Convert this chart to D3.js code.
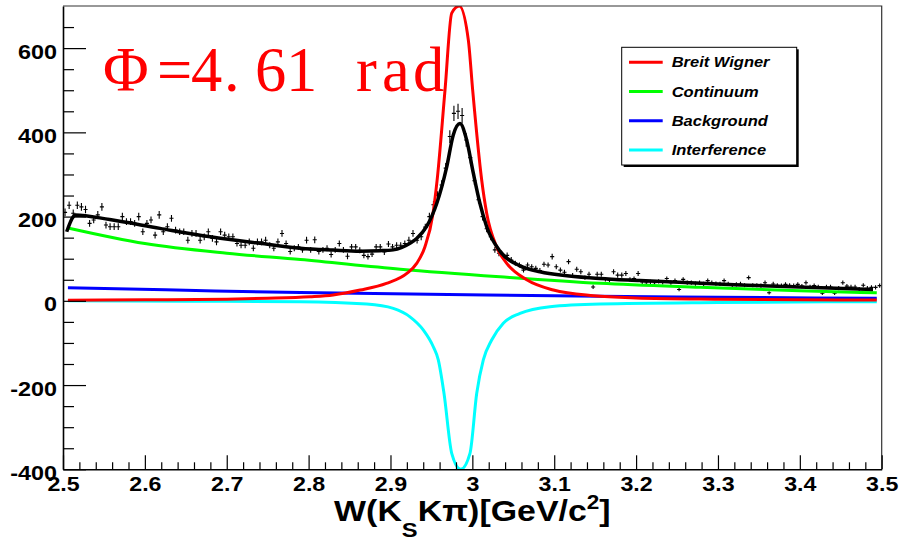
<!DOCTYPE html>
<html>
<head>
<meta charset="utf-8">
<script src="https://cdn.jsdelivr.net/npm/d3@7"></script>
<style>
  body { margin: 0; background: #fff; }
  svg { display: block; }
</style>
</head>
<body>
<svg id="chart" width="899" height="542"></svg>
<script>
// ---- axis setup ----
const xDomain = [2.5, 3.5];
const yDomain = [-400, 700];
const xMajorTicks = [2.5, 2.6, 2.7, 2.8, 2.9, 3.0, 3.1, 3.2, 3.3, 3.4, 3.5];
const xTickLabels = ["2.5", "2.6", "2.7", "2.8", "2.9", "3", "3.1", "3.2", "3.3", "3.4", "3.5"];
const yMajorTicks = [-400, -200, 0, 200, 400, 600];
const yTickLabels = ["-400", "-200", "0", "200", "400", "600"];

// ---- histogram: W(KsKpi) events, 200 bins of 5 MeV from 2.5 GeV ----
const binLow = 2.5;
const binWidth = 0.005;
const counts = [
  210, 227, 208, 227, 223, 217, 184, 192, 204, 223,
  180, 176, 176, 176, 200, 188, 188, 184, 200, 164,
  184, 192, 156, 204, 164, 176, 196, 168, 164, 164,
  144, 160, 160, 144, 152, 164, 148, 140, 164, 156,
  152, 152, 136, 132, 132, 140, 125, 140, 140, 144,
  132, 125, 140, 160, 136, 117, 125, 128, 121, 144,
  121, 145, 117, 121, 125, 110, 121, 136, 121, 106,
  128, 128, 120, 108, 105, 111, 128, 128, 116, 135,
  128, 132, 132, 136, 144, 160, 144, 152, 175, 200,
  228, 250, 275, 315, 390, 445, 450, 440, 382, 340,
  285, 240, 200, 171, 152, 121, 113, 105, 108, 97,
  89, 85, 73, 85, 81, 77, 72, 87, 85, 105,
  81, 73, 68, 93, 60, 75, 69, 55, 63, 33,
  63, 63, 51, 49, 69, 61, 61, 65, 51, 53,
  65, 45, 43, 45, 43, 46, 44, 53, 43, 48,
  27, 51, 43, 43, 41, 43, 40, 48, 43, 41,
  40, 48, 40, 37, 39, 40, 37, 55, 37, 37,
  36, 43, 19, 40, 37, 36, 39, 37, 36, 39,
  35, 43, 33, 36, 33, 18, 33, 33, 18, 30,
  43, 35, 33, 33, 28, 37, 30, 32, 32, 36
];
const countErrors = [
  9, 9, 9, 9, 9, 9, 8, 8, 9, 9,
  8, 8, 8, 8, 9, 8, 8, 8, 9, 8,
  8, 8, 8, 9, 8, 8, 8, 8, 8, 8,
  8, 8, 8, 8, 8, 8, 8, 8, 8, 8,
  8, 8, 7, 7, 7, 8, 7, 8, 8, 8,
  7, 7, 8, 8, 7, 7, 7, 7, 7, 8,
  7, 8, 7, 7, 7, 7, 7, 7, 7, 7,
  7, 7, 7, 7, 7, 7, 7, 7, 7, 7,
  7, 7, 7, 7, 8, 8, 8, 8, 8, 9,
  9, 10, 11, 12, 15, 18, 18, 18, 16, 14,
  10, 9, 9, 8, 8, 7, 7, 7, 7, 7,
  6, 6, 6, 6, 6, 6, 6, 6, 6, 7,
  6, 6, 6, 6, 6, 6, 6, 5, 6, 5,
  6, 6, 5, 5, 6, 6, 6, 6, 5, 5,
  6, 5, 5, 5, 5, 5, 5, 5, 5, 5,
  4, 5, 5, 5, 5, 5, 5, 5, 5, 5,
  5, 5, 5, 5, 5, 5, 5, 5, 5, 5,
  5, 5, 4, 5, 5, 5, 5, 5, 5, 5,
  5, 5, 5, 5, 5, 4, 5, 5, 4, 5,
  5, 5, 5, 5, 5, 5, 5, 5, 5, 5
];

// ---- fitted total ----
const fitX = [2.5045, 2.5126, 2.515, 2.557, 2.6185, 2.68, 2.7406, 2.79, 2.83, 2.8628, 2.8871,
              2.9034, 2.9238, 2.932, 2.944, 2.9565, 2.9687, 2.9767, 2.9849, 2.993, 3.0012,
              3.0093, 3.0175, 3.0338, 3.0582, 3.0826, 3.1559, 3.2048, 3.3269, 3.4894];
const fitY = [164, 200, 204, 193, 172, 152, 136.5, 125, 120.6, 118, 119,
              121, 136.5, 148, 176, 231, 318, 394, 421, 382, 303,
              231, 176, 118, 83, 69, 53, 48, 37.5, 27];

// ---- components ----
const bwX = [2.506, 2.6, 2.7, 2.75, 2.8017, 2.83, 2.863, 2.895, 2.92, 2.932, 2.942, 2.952, 2.957,
             2.9666, 2.9748, 2.984, 2.9951, 3.0004, 3.0114, 3.0175, 3.0297, 3.042, 3.0664,
             3.099, 3.148, 3.2, 3.3, 3.4, 3.494];
const bwY = [1.5, 2.5, 4, 6, 9.7, 14, 25.6, 41.5, 65, 89, 128, 208, 287,
             500, 683, 700, 619, 500, 287, 208, 128, 89, 50,
             25.6, 12, 7, 4, 2.5, 2];

const contX = [2.506, 2.6, 2.7, 2.79, 2.912, 3.034, 3.156, 3.278, 3.4, 3.494];
const contY = [173, 136, 113, 98, 75, 57, 41.5, 32, 24, 19];

const bkgX = [2.506, 2.65, 2.79, 2.97, 3.156, 3.3, 3.494];
const bkgY = [31, 25, 19.5, 15, 11, 8.5, 6];

const intX = [2.506, 2.65, 2.79, 2.871, 2.9034, 2.9238, 2.940, 2.9523, 2.9584, 2.9654, 2.9748,
              2.9858, 2.9971, 3.0053, 3.0134, 3.0236, 3.0378, 3.0582, 3.0948, 3.156, 3.3, 3.494];
const intY = [0, -1, -2, -7.6, -18, -38, -69, -109, -140, -220, -362,
              -400, -362, -220, -140, -93, -53, -30, -14, -7.6, -4, -2];

const legendLabels = ["Breit Wigner", "Continuum", "Background", "Interference"];
const legendColors = ["#ff0000", "#00ff00", "#0000ff", "#00ffff"];

// ---- layout ----
const plot = { left: 63, right: 881.7, top: 6, bottom: 469.3 };
const SANS = "'Liberation Sans', Arial, Helvetica, sans-serif";
const SERIF = "'Liberation Serif', 'Times New Roman', serif";

const svg = d3.select("#chart");
svg.append("rect").attr("width", 899).attr("height", 542).attr("fill", "#fff");

const x = d3.scaleLinear().domain(xDomain).range([plot.left, plot.right]);
const y = d3.scaleLinear().domain(yDomain).range([plot.bottom, plot.top]);

svg.append("clipPath").attr("id", "frame")
  .append("rect")
  .attr("x", plot.left).attr("y", plot.top)
  .attr("width", plot.right - plot.left).attr("height", plot.bottom - plot.top);

// ---- data points with error bars ----
const bins = counts.map((v, i) => ({
  lo: binLow + binWidth * i,
  hi: binLow + binWidth * (i + 1),
  mid: binLow + binWidth * (i + 0.5),
  v, e: countErrors[i]
}));
const gPts = svg.append("g").attr("stroke", "#000").attr("stroke-width", 1.1).attr("clip-path", "url(#frame)");
gPts.selectAll("line.ev").data(bins).join("line").attr("class", "ev")
  .attr("x1", d => x(d.mid)).attr("x2", d => x(d.mid))
  .attr("y1", d => y(d.v - d.e)).attr("y2", d => y(d.v + d.e));
gPts.selectAll("line.eh").data(bins).join("line").attr("class", "eh")
  .attr("x1", d => x(d.lo)).attr("x2", d => x(d.hi))
  .attr("y1", d => y(d.v)).attr("y2", d => y(d.v));

// ---- curves ----
const line = d3.line().x(d => x(d[0])).y(d => y(d[1])).curve(d3.curveMonotoneX);
const gCurves = svg.append("g").attr("clip-path", "url(#frame)").attr("fill", "none")
  .attr("stroke-linejoin", "round");
function drawCurve(xs, ys, color, width) {
  gCurves.append("path")
    .datum(xs.map((v, i) => [v, ys[i]]))
    .attr("d", line)
    .attr("stroke", color)
    .attr("stroke-width", width);
}
drawCurve(contX, contY, legendColors[1], 3);
drawCurve(bkgX, bkgY, legendColors[2], 3);
drawCurve(intX, intY, legendColors[3], 3);
drawCurve(bwX, bwY, legendColors[0], 3);
drawCurve(fitX, fitY, "#000", 3.5);

// ---- frame (top and right) ----
svg.append("path")
  .attr("d", `M${plot.left},${plot.top}H${plot.right}V${plot.bottom}`)
  .attr("fill", "none").attr("stroke", "#333").attr("stroke-width", 1.2);

// ---- axes ----
const isMajor = (v, step) => Math.abs(v / step - Math.round(v / step)) < 1e-6;
const xMinor = d3.range(0, 51).map(i => 2.5 + i * 0.02).filter(v => !isMajor(v - 2.5, 0.1) && v < 3.5 - 1e-9);
const yMinor = d3.range(0, 22).map(i => -400 + i * 50).filter(v => !isMajor(v + 400, 200) && v < 700);

const gxMinor = svg.append("g").attr("transform", `translate(0,${plot.bottom})`)
  .call(d3.axisBottom(x).tickValues(xMinor).tickFormat("").tickSize(-7).tickSizeOuter(0));
gxMinor.select(".domain").remove();
const gyMinor = svg.append("g").attr("transform", `translate(${plot.left},0)`)
  .call(d3.axisLeft(y).tickValues(yMinor).tickFormat("").tickSize(-11).tickSizeOuter(0));
gyMinor.select(".domain").remove();

const gx = svg.append("g").attr("transform", `translate(0,${plot.bottom})`)
  .call(d3.axisBottom(x).tickValues(xMajorTicks).tickFormat((d, i) => xTickLabels[i])
    .tickSize(-14).tickSizeOuter(0).tickPadding(8));
const gy = svg.append("g").attr("transform", `translate(${plot.left},0)`)
  .call(d3.axisLeft(y).tickValues(yMajorTicks).tickFormat((d, i) => yTickLabels[i])
    .tickSize(-23).tickSizeOuter(0).tickPadding(5));

[gx, gy, gxMinor, gyMinor].forEach(g => {
  g.selectAll(".tick line").attr("stroke", "#000").attr("stroke-width", 1.2);
  g.select(".domain").attr("stroke", "#000").attr("stroke-width", 1.6);
});
gx.selectAll(".tick text")
  .attr("font-family", SANS).attr("font-weight", "bold").attr("font-size", 19.5)
  .attr("fill", "#000").attr("transform", "scale(1.19,1)");
gy.selectAll(".tick text")
  .attr("font-family", SANS).attr("font-weight", "bold").attr("font-size", 19.5)
  .attr("fill", "#000").attr("dy", "0.52em").attr("transform", "scale(1.2,1)");

// ---- x axis title ----
const title = svg.append("g").attr("transform", `translate(${(plot.left + plot.right) / 2},521) scale(1.13,1)`)
  .append("text")
  .attr("text-anchor", "middle")
  .attr("font-family", SANS).attr("font-weight", "bold").attr("font-size", 30).attr("fill", "#000");
title.append("tspan").text("W(K");
title.append("tspan").attr("font-size", 21).attr("dy", 16).text("S");
title.append("tspan").attr("dy", -16).text("K\u03C0)[GeV/c");
title.append("tspan").attr("font-size", 20).attr("dy", -12).text("2");
title.append("tspan").attr("dy", 12).text("]");

// ---- phase annotation ----
const phaseText = "\u03A6=4.61 rad";
const phaseX = [103, 157, 191, 224, 255, 286, 317, 356, 382, 413];
svg.append("text")
  .attr("x", phaseX.join(" "))
  .attr("y", 90.7)
  .attr("font-family", SERIF).attr("font-size", 62.5)
  .attr("fill", "#ff0000")
  .style("white-space", "pre")
  .text(phaseText);

// ---- legend ----
const leg = { x: 621.7, y: 47.3, w: 175, h: 117.7 };
const gLeg = svg.append("g");
gLeg.append("rect").attr("x", leg.x + 2).attr("y", leg.y + 2).attr("width", leg.w).attr("height", leg.h).attr("fill", "#000");
gLeg.append("rect").attr("x", leg.x).attr("y", leg.y).attr("width", leg.w).attr("height", leg.h)
  .attr("fill", "#fff").attr("stroke", "#000").attr("stroke-width", 1);
const rowY = d3.scalePoint().domain(legendLabels).range([62.3, 150]);
const rows = gLeg.selectAll("g.row").data(legendLabels).join("g").attr("class", "row")
  .attr("transform", d => `translate(0,${rowY(d)})`);
rows.append("line")
  .attr("x1", 629).attr("x2", 662.7).attr("y1", 0).attr("y2", 0)
  .attr("stroke", (d, i) => legendColors[i]).attr("stroke-width", 3);
rows.append("text")
  .attr("transform", "translate(671.7,5) scale(1.1,1)")
  .attr("font-family", SANS).attr("font-weight", "bold").attr("font-style", "italic")
  .attr("font-size", 15).attr("fill", "#000")
  .text(d => d);
</script>
</body>
</html>
